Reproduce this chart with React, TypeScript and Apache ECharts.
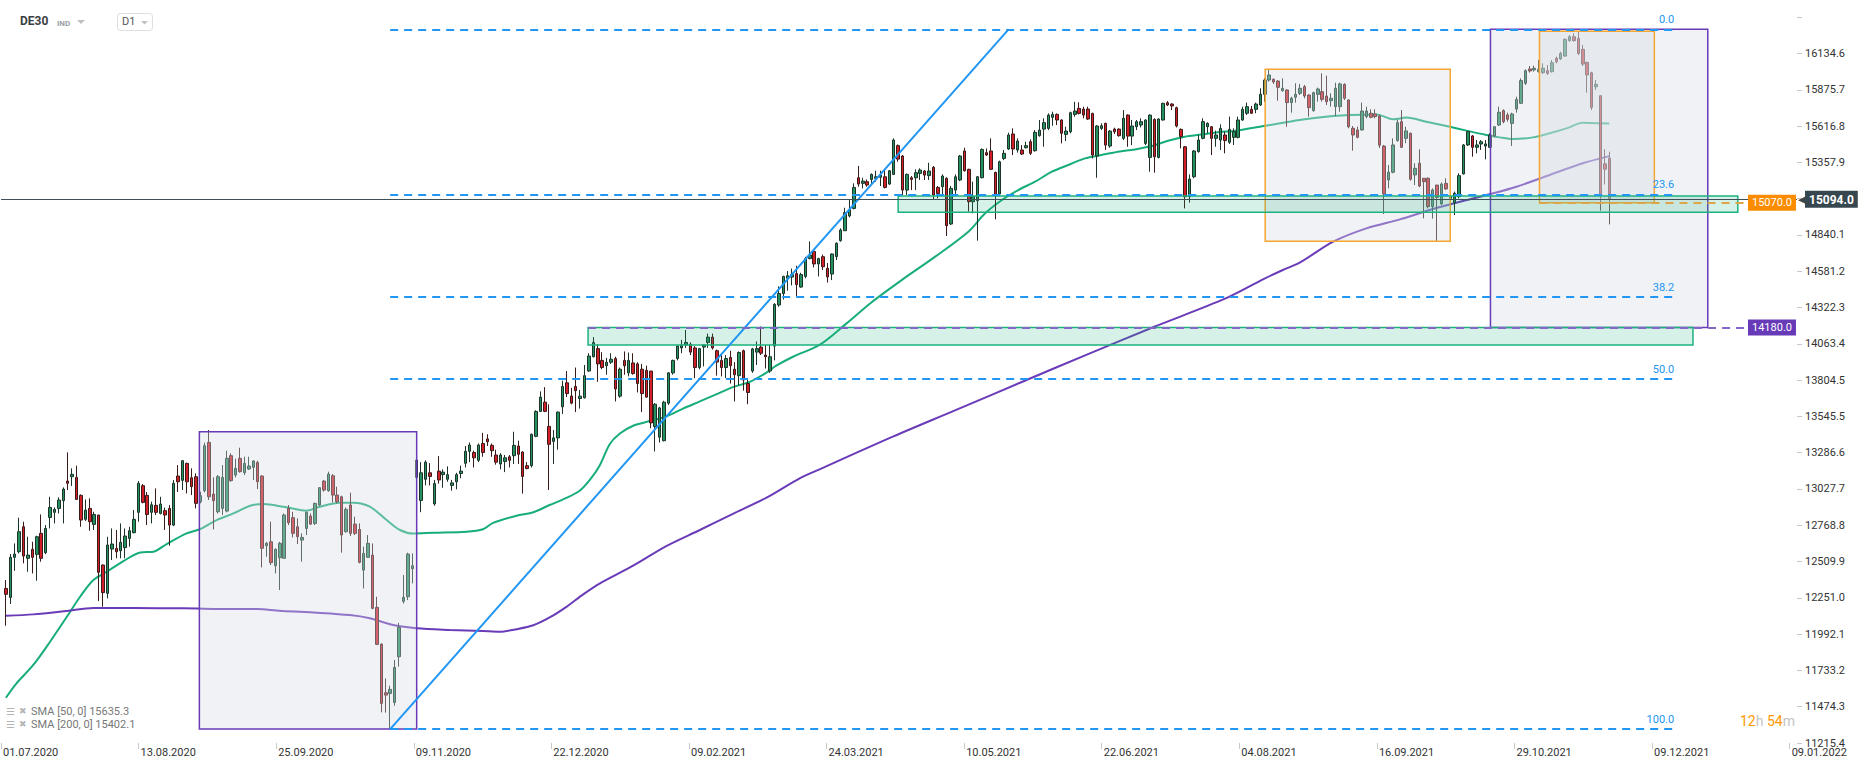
import React, { useEffect, useRef } from 'react';
import * as echarts from 'echarts';

// ---------- tick labels ----------
const xTickLabels = ['01.07.2020', '13.08.2020', '25.09.2020', '09.11.2020', '22.12.2020', '09.02.2021', '24.03.2021', '10.05.2021', '22.06.2021', '04.08.2021', '16.09.2021', '29.10.2021', '09.12.2021', '09.01.2022'];
const yMin = 11215.4;
const yStep = 258.9053;
const yMax = 16516;
const yLastTick = 19;
const xMin = -1.11;
const xStep = 31.15;
const xMax = 405.5;

// ---------- daily candles: [open, close, low, high] ----------
const ohlc: number[][] = [
  [12318,12276,12052,12378],[12254,12540,12207,12563],[12540,12563,12444,12639],[12580,12723,12568,12823],[12758,12549,12497,12794],
  [12533,12556,12437,12687],[12597,12540,12425,12651],[12561,12687,12373,12694],[12711,12533,12509,12846],[12573,12746,12563,12770],
  [12825,12896,12746,12972],[12861,12882,12782,12896],[12889,12949,12853,12968],[12944,13027,12782,13039],[13084,13068,13020,13289],
  [13115,13132,13049,13175],[13110,12953,12949,13194],[12982,12806,12758,12989],[12811,12877,12799,12953],[12889,12794,12730,12961],
  [12775,12846,12735,12865],[12842,12433,12228,12842],[12485,12288,12188,12490],[12283,12628,12247,12687],[12599,12635,12521,12746],
  [12604,12580,12533,12735],[12587,12647,12533,12782],[12609,12692,12533,12746],[12675,12730,12616,12758],[12716,12811,12711,12877],
  [12861,13068,12794,13084],[13051,12932,12925,13063],[12982,12846,12770,13006],[12861,12915,12782,12937],[12911,12861,12842,13032],
  [12853,12920,12846,12972],[12873,12842,12735,12894],[12889,12770,12623,12913],[12770,13068,12763,13091],[13120,13079,13006,13198],
  [13089,13229,13020,13234],[13210,13079,12996,13215],[13108,13044,12984,13175],[13115,12925,12889,13139],[12937,12980,12925,13008],
  [13015,13336,13003,13358],[13360,12972,12949,13448],[12991,12944,12739,13110],[12865,13115,12853,13127],[12889,13110,12842,13198],
  [12870,13246,12861,13301],[13265,13087,13079,13282],[13127,13175,13110,13244],[13246,13151,13144,13322],[13144,13210,13127,13258],
  [13170,13191,13163,13258],[13182,13227,13091,13234],[13217,13079,13027,13229],[13120,12604,12468,13127],[12623,12640,12544,12651],
  [12651,12502,12485,12794],[12480,12597,12425,12604],[12537,12640,12307,12651],[12533,12842,12533,12853],[12889,12787,12770,12913],
  [12823,12711,12682,12865],[12758,12687,12635,12818],[12663,12682,12509,12711],[12746,12861,12699,12865],[12834,12777,12770,12853],
  [12782,12925,12770,12930],[12913,13037,12906,13039],[13084,13020,13008,13091],[13015,13134,13008,13151],[13122,12984,12932,13134],
  [12984,12937,12925,13044],[12972,12699,12573,12980],[12723,12882,12716,12896],[12913,12711,12692,13001],[12777,12711,12699,12830],
  [12739,12504,12497,12782],[12449,12568,12318,12616],[12540,12640,12540,12699],[12556,12176,12169,12639],[12183,11919,11914,12259],
  [11921,11498,11434,11926],[11574,11557,11432,11676],[11569,11598,11315,11624],[11505,11755,11481,11807],[11831,12040,11760,12073],
  [12226,12254,12211,12414],[12259,12563,12235,12573],[12459,12480,12354,12568],[13110,13234,12950,13300],[12946,13143,12862,13219],
  [13097,13219,13053,13232],[13143,13117,13053,13212],[12921,13066,12908,13092],[13155,13092,13066,13262],[13130,13148,13036,13168],
  [13097,13130,13079,13189],[13053,13071,13015,13092],[13079,13130,13025,13143],[13138,13155,13104,13194],[13211,13296,13181,13334],
  [13296,13341,13219,13359],[13288,13250,13181,13301],[13232,13341,13219,13352],[13352,13288,13257,13428],[13385,13364,13334,13418],
  [13339,13301,13257,13352],[13270,13219,13201,13308],[13206,13270,13168,13283],[13224,13250,13148,13270],[13257,13232,13181,13270],
  [13265,13339,13206,13436],[13334,13275,13206,13372],[13291,13117,12995,13296],[13194,13173,13168,13219],[13194,13418,13181,13423],
  [13403,13581,13397,13589],[13581,13683,13576,13724],[13647,13581,13576,13754],[13474,13346,13020,13632],[13367,13392,13206,13448],
  [13392,13576,13308,13581],[13614,13759,13563,13800],[13785,13708,13683,13869],[13691,13640,13632,13749],[13759,13729,13576,13894],
  [13673,13690,13601,13734],[13678,13836,13673,13912],[13869,13976,13864,13996],[13971,14073,13966,14111],[14029,13920,13792,14060],
  [13945,13894,13882,14004],[13907,13932,13843,13963],[13932,13953,13920,13996],[13958,13741,13652,13971],[13690,13882,13678,13894],
  [13945,13907,13843,14009],[13856,13945,13831,14001],[13927,13851,13843,13996],[13920,13780,13716,13932],[13882,13708,13576,13920],
  [13874,13683,13678,13907],[13869,13499,13461,13869],[13474,13632,13295,13640],[13397,13606,13359,13614],[13372,13647,13367,13657],
  [13640,13856,13627,13861],[13856,13945,13843,13950],[13958,14047,13945,14052],[14034,14055,13996,14091],[14055,14073,14034,14162],
  [14060,14004,13983,14073],[14034,13894,13818,14047],[13894,14029,13881,14034],[14040,14055,13902,14060],[14073,14111,14034,14136],
  [14111,14034,14022,14136],[14014,13933,13836,14022],[13945,13894,13831,13983],[13894,13958,13818,13983],[13966,13907,13780,14014],
  [13882,13843,13652,13932],[13836,14001,13767,14009],[14014,13805,13729,14022],[13780,13716,13632,13818],[13869,14027,13856,14034],
  [14004,14029,13912,14080],[14040,13996,13983,14187],[13983,13971,13887,14055],[13869,13971,13856,14055],[14047,14345,13945,14353],
  [14340,14422,14327,14473],[14422,14544,14379,14549],[14531,14549,14442,14582],[14539,14557,14480,14600],[14564,14485,14404,14620],
  [14468,14557,14463,14570],[14544,14671,14531,14684],[14671,14697,14666,14794],[14722,14633,14608,14735],[14633,14671,14544,14677],
  [14685,14613,14590,14700],[14602,14540,14500,14640],[14561,14704,14518,14708],[14685,14780,14661,14787],[14799,14875,14792,14887],
  [14870,14999,14870,15034],[14975,15022,14965,15089],[15029,15179,15022,15208],[15248,15203,15184,15332],[15208,15224,15172,15248],
  [15220,15196,15184,15236],[15236,15272,15196,15279],[15244,15255,15220,15298],[15251,15267,15189,15298],[15255,15179,15172,15303],
  [15203,15298,15196,15303],[15272,15517,15267,15529],[15477,15381,15362,15486],[15403,15160,15125,15410],[15160,15272,15125,15279],
  [15248,15236,15160,15260],[15248,15284,15160,15308],[15279,15303,15232,15315],[15296,15267,15232,15303],[15263,15296,15232,15355],
  [15322,15125,15094,15332],[15179,15136,15101,15189],[15184,15260,15125,15272],[15244,14906,14832,15251],[14918,15172,14911,15189],
  [15160,15255,15125,15272],[15232,15403,15224,15410],[15439,15298,15291,15462],[15308,15077,15006,15312],[15077,15113,14994,15220],
  [15084,15255,14799,15260],[15248,15450,15244,15457],[15427,15410,15403,15457],[15439,15308,15303,15529],[15286,15125,14951,15291],
  [15132,15362,15125,15370],[15386,15422,15374,15446],[15453,15553,15446,15569],[15560,15453,15410,15600],[15446,15510,15427,15529],
  [15446,15417,15410,15481],[15462,15477,15457,15505],[15505,15422,15410,15522],[15441,15572,15434,15588],[15548,15588,15541,15660],
  [15595,15641,15469,15672],[15600,15695,15588,15707],[15679,15700,15619,15719],[15700,15660,15624,15707],[15660,15565,15493,15664],
  [15557,15581,15510,15612],[15576,15712,15565,15719],[15700,15724,15683,15790],[15743,15707,15700,15786],[15738,15695,15672,15755],
  [15738,15667,15660,15755],[15707,15410,15386,15712],[15403,15617,15248,15624],[15600,15619,15588,15636],[15636,15481,15446,15641],
  [15474,15581,15462,15588],[15595,15576,15560,15605],[15595,15548,15541,15600],[15529,15672,15517,15731],[15695,15545,15469,15700],
  [15545,15617,15481,15660],[15612,15648,15588,15660],[15624,15648,15607,15672],[15493,15660,15481,15664],[15393,15695,15291,15700],
  [15664,15398,15284,15672],[15393,15667,15386,15672],[15660,15779,15655,15783],[15783,15767,15760,15795],[15774,15760,15731,15779],
  [15748,15617,15607,15755],[15593,15541,15457,15600],[15469,15113,15029,15474],[15113,15239,15070,15272],[15255,15439,15244,15446],
  [15434,15517,15427,15553],[15529,15648,15522,15672],[15612,15636,15565,15643],[15612,15529,15410,15617],[15529,15553,15469,15584],
  [15517,15600,15446,15629],[15553,15513,15422,15577],[15501,15593,15489,15684],[15536,15577,15482,15600],[15536,15660,15529,15684],
  [15660,15736,15655,15755],[15708,15755,15696,15784],[15736,15708,15703,15760],[15736,15774,15708,15784],[15767,15843,15760,15886],
  [15843,15945,15791,15957],[15945,15981,15933,16017],[15950,15931,15917,15957],[15938,15893,15798,15945],[15869,15886,15862,15957],
  [15874,15784,15612,15879],[15784,15815,15712,15826],[15822,15843,15784,15922],[15850,15886,15838,15917],[15898,15831,15815,15910],
  [15838,15748,15684,15845],[15727,15855,15719,15862],[15843,15881,15791,15891],[15862,15807,15791,15993],[15831,15791,15767,15976],
  [15798,15815,15755,15850],[15755,15886,15688,15926],[15755,15917,15719,15926],[15914,15815,15803,15922],[15803,15612,15601,15807],
  [15601,15553,15441,15617],[15589,15536,15529,15612],[15589,15724,15584,15784],[15684,15724,15672,15755],[15708,15679,15672,15736],
  [15703,15684,15672,15736],[15688,15480,15460,15700],[15474,15132,14989,15482],[15232,15287,15172,15339],[15287,15482,15280,15529],
  [15513,15641,15505,15660],[15648,15465,15460,15731],[15529,15582,15494,15612],[15565,15237,15227,15570],[15268,15315,15196,15351],
  [15351,15189,15180,15451],[15244,15220,14958,15244],[15244,15042,15030,15251],[15042,15161,14956,15172],[15196,15108,14797,15196],
  [15061,15203,15054,15215],[15208,15168,15161,15244],[15101,15113,15089,15125],[15070,15137,14982,15149],[15113,15263,15101,15280],
  [15275,15482,15272,15489],[15482,15577,15474,15584],[15546,15465,15398,15553],[15465,15482,15422,15517],[15489,15505,15446,15517],
  [15474,15489,15379,15517],[15465,15553,15460,15565],[15546,15612,15536,15617],[15624,15715,15617,15755],[15727,15648,15636,15736],
  [15696,15665,15648,15712],[15636,15703,15474,15712],[15738,15807,15712,15826],[15779,15941,15774,15957],[15922,16012,15910,16021],
  [16024,16010,15998,16045],[16017,16029,16005,16048],[16005,16021,15998,16088],[15998,16029,15988,16064],[16012,15993,15981,16052],
  [16005,16069,15998,16088],[16100,16076,16064,16112],[16095,16135,16088,16147],[16116,16235,16112,16242],[16226,16254,16219,16266],
  [16254,16226,16219,16278],[16242,16135,16123,16290],[16164,16059,16045,16195],[16071,15981,15855,16076],[15997,15750,15731,16004],
  [15897,15914,15874,15945],[15833,15120,15013,15838],[15347,15309,15200,15451],[15387,15094,14915,15434],
];

// ---------- moving averages: [bar, value] ----------
const sma50: number[][] = [
  [0,11538],[2.4,11641],[6.2,11772],[10,11938],[13.8,12116],[16.8,12259],[19.8,12378],[22.8,12437],[26.6,12513],[30.4,12575],
  [33.4,12580],[36.4,12635],[40.9,12711],[44,12742],[47.7,12806],[51.5,12853],[55.3,12908],[58.3,12920],[62.8,12901],[68,12873],
  [71.1,12901],[75.6,12930],[78.7,12930],[82.4,12901],[86.2,12806],[89.2,12735],[92.2,12710],[96.7,12715],[104.3,12722],[108,12740],
  [110.3,12786],[115.6,12837],[119.4,12862],[123.1,12913],[126.9,12964],[129.9,13015],[132.2,13092],[134.4,13194],[136.7,13347],[139,13423],
  [142,13479],[145.8,13512],[149.5,13545],[153.3,13601],[157.1,13652],[160.8,13703],[164.6,13754],[168.4,13792],[172.1,13856],[174.4,13907],
  [178.2,13971],[184.2,14055],[190,14200],[196,14360],[202.8,14518],[210.4,14685],[217.9,14863],[221.7,14994],[225.5,15089],[229.2,15160],
  [233,15220],[236.8,15291],[240.5,15339],[244.3,15386],[248,15410],[251.8,15434],[255.6,15450],[259.4,15474],[263.1,15512],[266.9,15541],
  [270.6,15556],[275.2,15576],[277.8,15580],[285.4,15620],[292.9,15660],[300.5,15688],[304.3,15696],[310.3,15700],[314.1,15665],[317.1,15677],
  [321.6,15648],[326.9,15612],[330.7,15584],[335.2,15553],[338.2,15536],[341.2,15524],[345.7,15536],[349.5,15565],[353.3,15600],[357,15641],
  [360.4,15636],[363,15635],
];
const sma200: number[][] = [
  [0,12124],[6.2,12133],[13.8,12157],[19.8,12178],[28.8,12178],[40.2,12176],[51.5,12171],[56.8,12171],[62.8,12157],[70.4,12145],
  [77.9,12128],[82.4,12105],[87.7,12057],[93,12034],[100.5,12022],[108,12014],[111.8,12009],[115.6,12027],[119.4,12055],[123.1,12111],
  [126.9,12187],[130.7,12276],[134.4,12353],[142,12480],[149.5,12620],[157.1,12735],[164.6,12850],[172.1,12964],[179.7,13104],[184.2,13168],
  [200,13390],[215,13590],[230,13791],[245,13990],[260,14185],[276,14385],[284.6,14523],[289.1,14590],[292.9,14642],[300.5,14792],
  [308,14887],[315.6,14951],[323.1,15025],[330.7,15089],[335.9,15130],[342,15184],[349.5,15268],[357,15351],[363,15402],
];

// ---------- drawing tools ----------
const fibHigh = 16307;
const fibLow = 11315;
const fibLevels = [0, 23.6, 38.2, 50, 100];
const fibFrom = 87;
const fibTo = 378.6;
const trendFrom = [87, 11315];
const trendTo = [227, 16307];
const lastPrice = 15094;
const orangeLevel = 15070;
const purpleLevel = 14180;
const levelLabelAt = 394.4;
const purpleBoxes = [[43.8, 93, 13436, 11315], [336.1, 385.3, 16307, 14180]];
const orangeBoxes = [[285.1, 327, 16022, 14795], [347.2, 373.2, 16293, 15070]];
const greenZones = [[202, 392.1, 15118, 15001], [131.8, 381.95, 14180, 14055]];

const FONT = 'Roboto, "Noto Sans", sans-serif';

export default function App() {
  const ref = useRef<HTMLDivElement>(null);
  useEffect(() => {
    if (!ref.current) return;
    const chart = echarts.init(ref.current, undefined, { renderer: 'svg' });

    const candleData = ohlc.map((d, i) => [i, d[0], d[1], d[2], d[3]]);

    const fibLines = fibLevels.map((p) => {
      const v = fibHigh - ((fibHigh - fibLow) * p) / 100;
      return [
        {
          coord: [fibFrom, v],
          lineStyle: { color: '#2196f3', width: 2, type: [8, 6] },
          label: { show: true, position: 'insideEndTop', formatter: p.toFixed(1), color: '#2196f3', fontSize: 11, fontFamily: FONT, distance: 4 },
        },
        { coord: [fibTo, v] },
      ];
    });

    const areaItem = (b: number[], border: string, fill: string) => [
      { coord: [b[0], b[2]], itemStyle: { color: fill, borderColor: border, borderWidth: 1.5 } },
      { coord: [b[1], b[3]] },
    ];

    const option: any = {
      animation: false,
      textStyle: { fontFamily: FONT },
      grid: { left: 1, right: 69, top: 0, bottom: 27, containLabel: false },
      xAxis: {
        type: 'value',
        min: xMin,
        max: xMax,
        interval: xStep,
        axisLine: { show: false, onZero: false },
        axisTick: { show: true, length: 6, lineStyle: { color: '#c8c8c8' } },
        splitLine: { show: false },
        axisLabel: {
          showMaxLabel: false,
          align: 'left',
          margin: 4,
          color: '#333',
          fontSize: 11,
          padding: [0, 0, 0, 2],
          formatter: (v: number) => {
            const k = (v - xMin) / xStep;
            const r = Math.round(k);
            if (Math.abs(k - r) > 0.01) return '';
            return xTickLabels[r] ?? '';
          },
        },
      },
      yAxis: {
        type: 'value',
        position: 'right',
        min: yMin,
        max: yMax,
        interval: yStep,
        axisLine: { show: false, onZero: false },
        axisTick: { show: true, length: 5, lineStyle: { color: '#c8c8c8' } },
        splitLine: { show: false },
        axisLabel: {
          showMaxLabel: false,
          margin: 8,
          color: '#333',
          fontSize: 11,
          formatter: (v: number) => {
            const k = (v - yMin) / yStep;
            const r = Math.round(k);
            if (Math.abs(k - r) > 0.01 || r === 15 || r > yLastTick) return '';
            return v.toFixed(1);
          },
        },
      },
      series: [
        {
          type: 'candlestick',
          name: 'DE30',
          data: candleData,
          encode: { x: 0, y: [1, 2, 3, 4] },
          barWidth: 3,
          silent: true,
          z: 2,
          itemStyle: {
            color: '#23915f',
            color0: '#d01f26',
            borderColor: '#1d3328',
            borderColor0: '#3b1a1a',
            borderWidth: 1,
          },
        },
        {
          type: 'line',
          name: 'SMA50',
          data: sma50,
          showSymbol: false,
          smooth: 0.3,
          silent: true,
          z: 2,
          lineStyle: { color: '#17ad78', width: 2 },
        },
        {
          type: 'line',
          name: 'SMA200',
          data: sma200,
          showSymbol: false,
          smooth: 0.3,
          silent: true,
          z: 2,
          lineStyle: { color: '#6a3bb8', width: 2 },
        },
        {
          type: 'line',
          name: 'areas',
          data: [],
          silent: true,
          clip: false,
          markArea: {
            silent: true,
            z: 3,
            data: [
              ...purpleBoxes.map((b) => areaItem(b, '#673ab7', 'rgba(214,219,227,0.36)')),
              ...orangeBoxes.map((b) => areaItem(b, '#f6a531', 'rgba(214,219,227,0.36)')),
              ...greenZones.map((b) => areaItem(b, '#1db27d', 'rgba(29,178,120,0.18)')),
            ],
          },
        },
        {
          type: 'line',
          name: 'lines',
          data: [],
          silent: true,
          clip: false,
          markLine: {
            silent: true,
            symbol: ['none', 'none'],
            z: 5,
            data: [
              ...fibLines,
              [
                { coord: trendFrom, lineStyle: { color: '#2196f3', width: 2, type: 'solid' }, label: { show: false } },
                { coord: trendTo },
              ],
              [
                {
                  coord: [xMin, lastPrice],
                  lineStyle: { color: '#3e4f58', width: 1, type: 'solid' },
                  label: {
                    show: true,
                    position: 'end',
                    distance: 1,
                    formatter: '{a|◀}{b|' + lastPrice.toFixed(1) + '}',
                    rich: {
                      a: { color: '#37474f', fontSize: 11, padding: [0, -1, 0, 0] },
                      b: { backgroundColor: '#37474f', color: '#fff', fontSize: 12, fontWeight: 'bold', padding: [3, 4, 2, 4], fontFamily: FONT },
                    },
                  },
                },
                { coord: [xMax, lastPrice] },
              ],
              [
                {
                  coord: [orangeBoxes[1][0], orangeLevel],
                  lineStyle: { color: '#dda448', width: 2, type: [8, 6] },
                  label: {
                    show: true,
                    position: 'end',
                    distance: 0,
                    formatter: orangeLevel.toFixed(1),
                    backgroundColor: '#fb8c00',
                    color: '#fff',
                    fontSize: 11,
                    padding: [3, 4, 2, 4],
                  },
                },
                { coord: [levelLabelAt, orangeLevel] },
              ],
              [
                {
                  coord: [greenZones[1][0], purpleLevel],
                  lineStyle: { color: '#8466c6', width: 2, type: [8, 6] },
                  label: {
                    show: true,
                    position: 'end',
                    distance: 0,
                    formatter: purpleLevel.toFixed(1),
                    backgroundColor: '#673ab7',
                    color: '#fff',
                    fontSize: 11,
                    padding: [3, 4, 2, 4],
                  },
                },
                { coord: [levelLabelAt, purpleLevel] },
              ],
            ],
          },
        },
      ],
      graphic: [
        { type: 'text', left: 20, top: 15, style: { text: 'DE30', font: `bold 12px ${FONT}`, fill: '#3c4043' } },
        { type: 'text', left: 57, top: 19, style: { text: 'IND', font: `bold 8px ${FONT}`, fill: '#9aa0a6' } },
        { type: 'polygon', shape: { points: [[77, 20], [85, 20], [81, 24]] }, style: { fill: '#c0c0c0' } },
        { type: 'rect', shape: { x: 117.5, y: 13.5, width: 35, height: 17, r: 3 }, style: { fill: '#fff', stroke: '#dedede', lineWidth: 1 } },
        { type: 'text', left: 122, top: 16, style: { text: 'D1', font: `11px ${FONT}`, fill: '#555' } },
        { type: 'polygon', shape: { points: [[141, 21], [148, 21], [144.5, 24.5]] }, style: { fill: '#c0c0c0' } },
        { type: 'text', left: 6, top: 706, style: { text: '☰', font: `10px "DejaVu Sans"`, fill: '#b5b5b5' } },
        { type: 'text', left: 19, top: 706, style: { text: '✖', font: `9px "DejaVu Sans"`, fill: '#b5b5b5' } },
        { type: 'text', left: 31, top: 706, style: { text: 'SMA [50, 0] 15635.3', font: `11px ${FONT}`, fill: '#777' } },
        { type: 'text', left: 6, top: 719, style: { text: '☰', font: `10px "DejaVu Sans"`, fill: '#b5b5b5' } },
        { type: 'text', left: 19, top: 719, style: { text: '✖', font: `9px "DejaVu Sans"`, fill: '#b5b5b5' } },
        { type: 'text', left: 31, top: 719, style: { text: 'SMA [200, 0] 15402.1', font: `11px ${FONT}`, fill: '#777' } },
        {
          type: 'text',
          left: 1740,
          top: 714,
          style: {
            text: '{o|12}{g|h} {o|54}{g|m}',
            font: `14px ${FONT}`,
            rich: {
              o: { fill: '#ff9800', fontSize: 14, fontFamily: FONT },
              g: { fill: '#c4c4c4', fontSize: 14, fontFamily: FONT },
            },
          },
        },
      ],
    };
    chart.setOption(option);
    return () => chart.dispose();
  }, []);
  return <div ref={ref} style={{ position: 'absolute', left: 0, top: 0, width: 1866, height: 770, background: '#fff' }} />;
}
